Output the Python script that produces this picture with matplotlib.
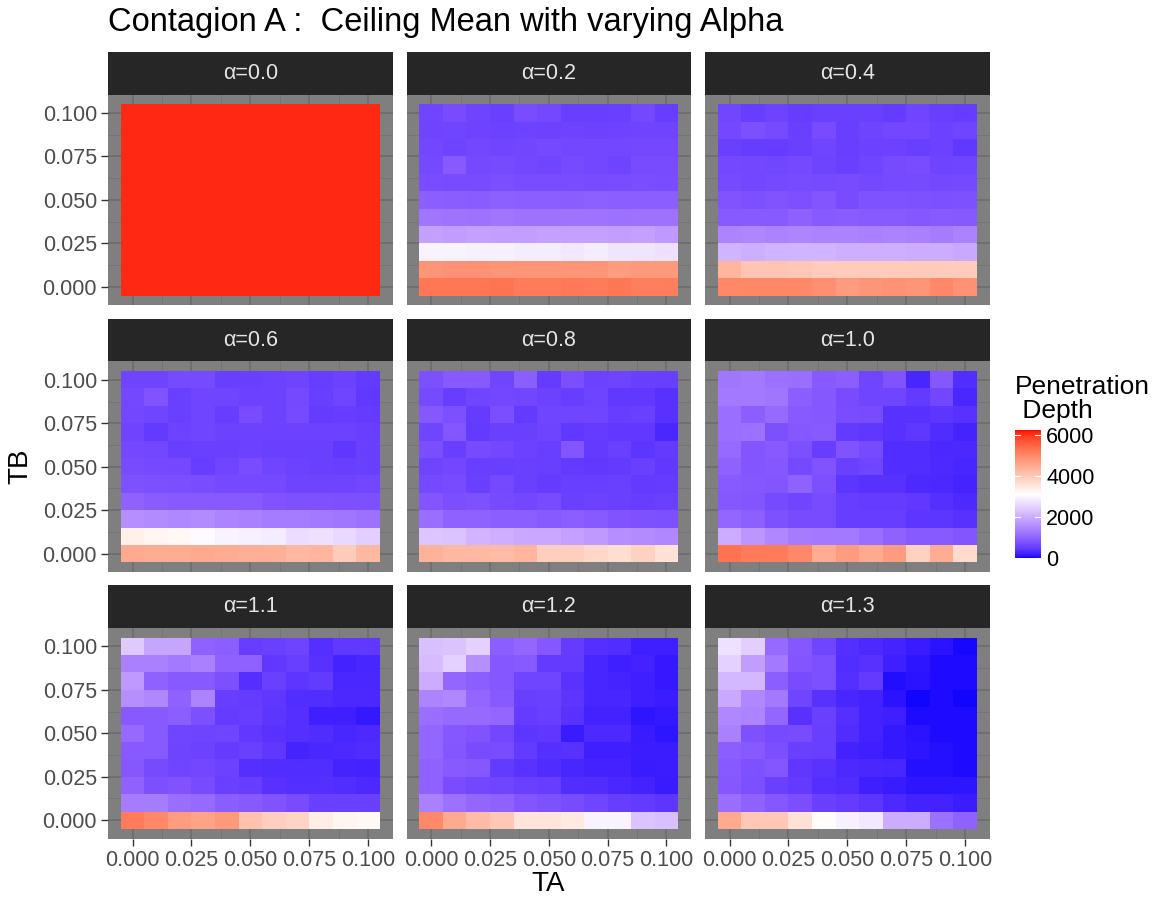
import numpy as np
import matplotlib
matplotlib.use("Agg")
import matplotlib.pyplot as plt
from matplotlib.colors import ListedColormap, Normalize
from matplotlib.cm import ScalarMappable

plt.rcParams['font.family'] = ['Liberation Sans', 'DejaVu Sans']

# grid values
ta_vals = [0.00, 0.01, 0.02, 0.03, 0.04, 0.05, 0.06, 0.07, 0.08, 0.09, 0.10]
tb_vals = [0.00, 0.01, 0.02, 0.03, 0.04, 0.05, 0.06, 0.07, 0.08, 0.09, 0.10]
alpha_labels = ["0.0", "0.2", "0.4", "0.6", "0.8", "1.0", "1.1", "1.2", "1.3"]

# penetration depth, rows listed from TB=0.10 (top) down to TB=0.00
pen_a00 = [
    [6100, 6100, 6100, 6100, 6100, 6100, 6100, 6100, 6100, 6100, 6100],
    [6100, 6100, 6100, 6100, 6100, 6100, 6100, 6100, 6100, 6100, 6100],
    [6100, 6100, 6100, 6100, 6100, 6100, 6100, 6100, 6100, 6100, 6100],
    [6100, 6100, 6100, 6100, 6100, 6100, 6100, 6100, 6100, 6100, 6100],
    [6100, 6100, 6100, 6100, 6100, 6100, 6100, 6100, 6100, 6100, 6100],
    [6100, 6100, 6100, 6100, 6100, 6100, 6100, 6100, 6100, 6100, 6100],
    [6100, 6100, 6100, 6100, 6100, 6100, 6100, 6100, 6100, 6100, 6100],
    [6100, 6100, 6100, 6100, 6100, 6100, 6100, 6100, 6100, 6100, 6100],
    [6100, 6100, 6100, 6100, 6100, 6100, 6100, 6100, 6100, 6100, 6100],
    [6100, 6100, 6100, 6100, 6100, 6100, 6100, 6100, 6100, 6100, 6100],
    [6100, 6100, 6100, 6100, 6100, 6100, 6100, 6100, 6100, 6100, 6100],
]
pen_a02 = [
    [620, 700, 600, 560, 720, 650, 530, 530, 560, 650, 520],
    [600, 620, 590, 580, 590, 570, 590, 580, 590, 600, 600],
    [640, 600, 640, 620, 630, 660, 640, 640, 640, 650, 650],
    [660, 900, 660, 680, 640, 620, 680, 640, 610, 700, 700],
    [720, 700, 700, 740, 720, 720, 720, 700, 720, 730, 720],
    [950, 930, 920, 960, 940, 950, 930, 960, 940, 950, 940],
    [1250, 1230, 1220, 1250, 1220, 1220, 1230, 1230, 1200, 1220, 1210],
    [1850, 1800, 1850, 1820, 1830, 1850, 1850, 1850, 1830, 1850, 1750],
    [2950, 2950, 2900, 2900, 2850, 2850, 2800, 2850, 2750, 2750, 2700],
    [4800, 4850, 4850, 4800, 4800, 4800, 4800, 4800, 4700, 4750, 4750],
    [5250, 5250, 5250, 5280, 5200, 5200, 5220, 5200, 5250, 5150, 5150],
]
pen_a04 = [
    [630, 520, 590, 510, 560, 560, 560, 490, 620, 530, 510],
    [650, 750, 680, 560, 700, 530, 600, 640, 640, 570, 620],
    [560, 510, 510, 560, 620, 530, 570, 570, 540, 570, 460],
    [650, 640, 630, 660, 600, 560, 620, 680, 720, 600, 620],
    [680, 640, 660, 690, 680, 700, 650, 680, 680, 650, 660],
    [800, 760, 800, 760, 820, 700, 790, 790, 780, 760, 780],
    [900, 880, 880, 980, 900, 920, 880, 880, 860, 880, 870],
    [1450, 1480, 1420, 1470, 1420, 1420, 1400, 1420, 1400, 1350, 1420],
    [2100, 2050, 2100, 2100, 2100, 2050, 2050, 2050, 2000, 2000, 1950],
    [4300, 4050, 4050, 4000, 3950, 3950, 3950, 3950, 3950, 3950, 3950],
    [5000, 5000, 5000, 5000, 4900, 4700, 4800, 4850, 4800, 5000, 4850],
]
pen_a06 = [
    [600, 600, 680, 680, 530, 560, 570, 600, 520, 570, 480],
    [650, 800, 560, 620, 620, 580, 580, 660, 540, 620, 460],
    [640, 620, 560, 620, 520, 700, 580, 680, 500, 520, 500],
    [600, 480, 590, 620, 580, 580, 570, 570, 570, 570, 540],
    [650, 640, 540, 560, 560, 570, 550, 560, 560, 440, 560],
    [700, 660, 650, 520, 620, 720, 620, 580, 560, 530, 560],
    [780, 760, 740, 720, 660, 670, 660, 600, 600, 600, 640],
    [1000, 920, 900, 880, 900, 880, 800, 780, 780, 760, 760],
    [1600, 1550, 1500, 1550, 1450, 1400, 1350, 1350, 1300, 1250, 1200],
    [3350, 3250, 3200, 3050, 2950, 2900, 2850, 2650, 2700, 2600, 2450],
    [4500, 4450, 4450, 4500, 4450, 4400, 4400, 4250, 4300, 3950, 4250],
]
pen_a08 = [
    [750, 880, 880, 620, 950, 500, 740, 580, 600, 560, 540],
    [680, 520, 620, 640, 630, 580, 520, 600, 460, 460, 380],
    [850, 760, 500, 740, 480, 620, 620, 620, 520, 560, 380],
    [620, 840, 480, 560, 560, 600, 460, 500, 460, 460, 280],
    [740, 540, 680, 640, 570, 530, 820, 480, 560, 420, 480],
    [600, 640, 540, 540, 560, 540, 480, 460, 480, 560, 460],
    [660, 700, 560, 660, 560, 500, 540, 540, 560, 480, 500],
    [820, 740, 780, 680, 640, 700, 560, 580, 560, 520, 560],
    [1150, 1000, 1000, 950, 950, 900, 950, 900, 800, 780, 750],
    [2350, 2300, 2100, 2050, 1950, 1950, 1850, 1750, 1600, 1550, 1500],
    [4350, 4250, 4250, 4200, 4300, 3900, 3900, 3750, 3650, 3850, 3600],
]
pen_a10 = [
    [1250, 1300, 1200, 1150, 900, 950, 620, 800, 260, 850, 340],
    [1300, 1300, 1250, 950, 850, 700, 620, 620, 480, 640, 280],
    [1150, 950, 1100, 880, 850, 720, 700, 380, 380, 420, 380],
    [1150, 1200, 750, 850, 900, 480, 440, 380, 440, 320, 240],
    [1100, 820, 900, 750, 520, 800, 680, 340, 330, 290, 290],
    [1000, 820, 850, 660, 800, 560, 620, 340, 330, 300, 260],
    [900, 850, 820, 1000, 760, 420, 380, 380, 300, 290, 240],
    [860, 820, 680, 620, 700, 520, 500, 500, 460, 360, 300],
    [1050, 960, 780, 700, 700, 520, 520, 520, 420, 420, 380],
    [2000, 1700, 1500, 1350, 1300, 1300, 1150, 1000, 900, 880, 820],
    [5300, 5200, 5200, 5000, 4450, 4700, 4500, 4700, 3850, 4450, 3700],
]
pen_a11 = [
    [2400, 1900, 1900, 1000, 950, 520, 560, 600, 360, 460, 460],
    [1400, 1400, 1300, 1400, 1000, 1000, 460, 540, 380, 220, 260],
    [1750, 1000, 900, 900, 750, 360, 560, 420, 480, 280, 280],
    [1600, 1500, 1000, 1450, 520, 500, 440, 340, 340, 290, 290],
    [900, 880, 950, 760, 500, 520, 420, 360, 200, 200, 140],
    [1100, 900, 620, 600, 620, 460, 400, 360, 320, 260, 300],
    [880, 880, 600, 580, 500, 560, 440, 240, 280, 300, 320],
    [860, 680, 620, 640, 580, 360, 340, 340, 340, 240, 220],
    [1000, 760, 800, 700, 560, 520, 380, 360, 360, 340, 300],
    [1350, 1350, 1150, 1100, 950, 880, 800, 700, 560, 560, 560],
    [5200, 5000, 4700, 4600, 4750, 4100, 3900, 3800, 3400, 3250, 3200],
]
pen_a12 = [
    [2250, 2300, 2500, 950, 1050, 850, 500, 360, 340, 200, 200],
    [2200, 2500, 1600, 850, 900, 480, 480, 260, 200, 220, 140],
    [2000, 1050, 950, 850, 620, 620, 400, 260, 240, 200, 140],
    [1450, 1500, 1050, 880, 540, 560, 420, 260, 260, 200, 180],
    [1150, 1100, 1100, 1050, 500, 540, 400, 220, 220, 120, 140],
    [1050, 860, 800, 640, 420, 440, 160, 300, 300, 160, 120],
    [1050, 840, 700, 720, 480, 360, 380, 200, 200, 180, 180],
    [1000, 900, 860, 480, 400, 320, 260, 220, 220, 160, 180],
    [1000, 720, 640, 620, 560, 520, 340, 320, 280, 220, 160],
    [1400, 1200, 1050, 1000, 820, 780, 700, 620, 520, 480, 420],
    [5000, 4500, 4200, 4000, 3550, 3550, 3450, 2950, 2950, 2300, 2250],
]
pen_a13 = [
    [2700, 2450, 1100, 850, 620, 360, 300, 240, 160, 100, 40],
    [2500, 1800, 1300, 820, 760, 340, 380, 200, 120, 60, 50],
    [2150, 2150, 950, 700, 760, 360, 480, 70, 100, 60, 50],
    [1950, 1500, 1300, 620, 380, 260, 220, 100, 30, 60, 30],
    [1500, 1450, 1050, 380, 560, 360, 220, 200, 60, 50, 60],
    [1400, 780, 680, 700, 540, 320, 220, 140, 100, 60, 50],
    [950, 880, 740, 560, 540, 220, 200, 140, 120, 80, 50],
    [900, 780, 840, 440, 400, 300, 280, 260, 80, 80, 60],
    [850, 760, 560, 480, 360, 320, 200, 160, 120, 120, 120],
    [1150, 1000, 850, 740, 560, 500, 420, 300, 220, 220, 180],
    [4500, 4000, 4000, 3600, 3150, 2900, 2800, 2000, 2000, 1200, 1000],
]
panels = [pen_a00, pen_a02, pen_a04, pen_a06, pen_a08, pen_a10, pen_a11, pen_a12, pen_a13]

v_min, v_mid, v_max = 0, 3100, 6250


# blue-white-red gradient interpolated in Lab space (like ggplot's gradient2)
def srgb_to_lab(rgb):
    rgb = np.asarray(rgb, dtype=float)
    lin = np.where(rgb <= 0.04045, rgb / 12.92, ((rgb + 0.055) / 1.055) ** 2.4)
    m = np.array([[0.4124, 0.3576, 0.1805], [0.2126, 0.7152, 0.0722], [0.0193, 0.1192, 0.9505]])
    xyz = m @ lin / np.array([0.95047, 1.0, 1.08883])
    f = np.where(xyz > 0.008856, np.cbrt(xyz), 7.787 * xyz + 16 / 116)
    return np.array([116 * f[1] - 16, 500 * (f[0] - f[1]), 200 * (f[1] - f[2])])


def lab_to_srgb(lab):
    L, a, b = lab
    fy = (L + 16) / 116
    fx = fy + a / 500
    fz = fy - b / 200
    f = np.array([fx, fy, fz])
    xyz = np.where(f ** 3 > 0.008856, f ** 3, (f - 16 / 116) / 7.787) * np.array([0.95047, 1.0, 1.08883])
    m = np.array([[3.2406, -1.5372, -0.4986], [-0.9689, 1.8758, 0.0415], [0.0557, -0.2040, 1.0570]])
    lin = np.clip(m @ xyz, 0, 1)
    rgb = np.where(lin <= 0.0031308, 12.92 * lin, 1.055 * lin ** (1 / 2.4) - 0.055)
    return np.clip(rgb, 0, 1)


lab_lo = srgb_to_lab([0, 0, 1])
lab_mid = srgb_to_lab([1, 1, 1])
lab_hi = srgb_to_lab([1, 0, 0])
p_mid = (v_mid - v_min) / (v_max - v_min)
colors = []
for p in np.linspace(0, 1, 512):
    if p < p_mid:
        t = p / p_mid
        lab = lab_lo + t * (lab_mid - lab_lo)
    else:
        u = (p - p_mid) / (1 - p_mid)
        lab = lab_mid + u * (lab_hi - lab_mid)
    colors.append(lab_to_srgb(lab))
cmap = ListedColormap(colors)
norm = Normalize(vmin=v_min, vmax=v_max)

W, H = 1159, 905
fig = plt.figure(figsize=(W / 100, H / 100), dpi=100)


def add_ax(x0, y0, w, h):
    return fig.add_axes([x0 / W, 1 - (y0 + h) / H, w / W, h / H])


col_x = [108, 406.5, 705]
row_y = [94.7, 361.5, 628]
panel_w, panel_h, strip_h = 284.6, 210.5, 43

ta_edges = np.append(np.array(ta_vals) - 0.005, ta_vals[-1] + 0.005)
tb_edges = np.append(np.array(tb_vals) - 0.005, tb_vals[-1] + 0.005)
major = [0.0, 0.025, 0.05, 0.075, 0.1]
minor = [0.0125, 0.0375, 0.0625, 0.0875]
lim = (-0.0105, 0.1105)
tick_fs = 15.5

for i, (vals, lab) in enumerate(zip(panels, alpha_labels)):
    r, c = divmod(i, 3)
    ax = add_ax(col_x[c], row_y[r], panel_w, panel_h)
    ax.set_facecolor('#7F7F7F')
    z = np.flipud(np.array(vals, dtype=float))  # row 0 -> TB=0.00
    ax.pcolormesh(ta_edges, tb_edges, z, cmap=cmap, norm=norm, zorder=2)
    ax.set_xlim(lim)
    ax.set_ylim(lim)
    ax.set_xticks(major)
    ax.set_yticks(major)
    ax.set_xticks(minor, minor=True)
    ax.set_yticks(minor, minor=True)
    ax.grid(which='major', color='#6B6B6B', lw=1.1, zorder=1)
    ax.grid(which='minor', color='#737373', lw=0.6, zorder=1)
    ax.set_axisbelow(True)
    for s in ax.spines.values():
        s.set_visible(False)
    ax.tick_params(which='minor', length=0)
    ax.tick_params(which='major', length=5, width=1, color='#333333',
                   labelsize=tick_fs, labelcolor='#4D4D4D', pad=3)
    if c == 0:
        ax.set_yticklabels(["0.000", "0.025", "0.050", "0.075", "0.100"])
    else:
        ax.tick_params(axis='y', length=0, labelleft=False)
    if r == 2:
        ax.set_xticklabels(["0.000", "0.025", "0.050", "0.075", "0.100"])
    else:
        ax.tick_params(axis='x', length=0, labelbottom=False)

    sax = add_ax(col_x[c], row_y[r] - strip_h, panel_w, strip_h)
    sax.set_facecolor('#262626')
    sax.set_xticks([])
    sax.set_yticks([])
    for s in sax.spines.values():
        s.set_visible(False)
    sax.text(0.5, 0.5, "\u03b1=" + lab, ha='center', va='center', color='#E5E5E5',
             fontsize=15.5, transform=sax.transAxes)

fig.text(108 / W, 1 - 22 / H, "Contagion A :  Ceiling Mean with varying Alpha",
         ha='left', va='center', fontsize=23.5, color='black')
fig.text(548 / W, 1 - 884 / H, "TA", ha='center', va='center', fontsize=20)
fig.text(20 / W, 1 - 466 / H, "TB", ha='center', va='center', fontsize=20, rotation=90)

# colourbar legend
cax = add_ax(1015, 430, 25.5, 128)
cb = fig.colorbar(ScalarMappable(norm=norm, cmap=cmap), cax=cax)
cb.outline.set_visible(False)
cb.set_ticks([0, 2000, 4000, 6000])
cb.set_ticklabels(["0", "2000", "4000", "6000"])
cax.tick_params(length=0, labelsize=tick_fs, pad=4)
for v in [0, 2000, 4000, 6000]:
    cax.plot([0, 0.2], [v, v], color='white', lw=0.8, transform=cax.get_yaxis_transform())
    cax.plot([0.8, 1.0], [v, v], color='white', lw=0.8, transform=cax.get_yaxis_transform())
fig.text(1015 / W, 1 - 399 / H, "Penetration\n Depth", ha='left', va='center',
         fontsize=19, linespacing=0.95)

fig.savefig("out.png", dpi=100)
